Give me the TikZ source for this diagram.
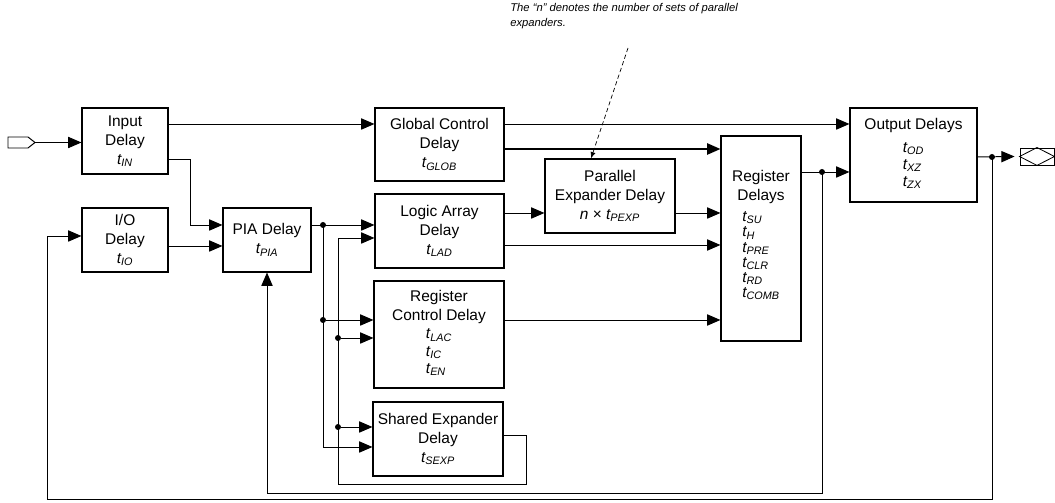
\documentclass[tikz,border=0pt]{standalone}
\usepackage{fontspec}
\setmainfont{Liberation Sans}
\usepackage{tikz}
\usetikzlibrary{positioning,arrows.meta}
\newcommand{\tdly}[1]{{\itshape t\textsubscript{#1}}}
\newcommand{\tlist}[2]{{\renewcommand{\arraystretch}{#1}\begin{tabular}{@{}l@{}}#2\end{tabular}}}
\tikzset{
  blk/.style={rectangle, draw=black, line width=0.8pt, align=center, inner sep=2pt,
              font=\fontsize{11}{13.5}\selectfont},
  flow/.style={-{Triangle[length=3.3mm,width=2.8mm]}, line width=0.7pt},
  wire/.style={line width=0.7pt},
  jn/.style={circle, fill=black, inner sep=0pt, minimum size=1.5mm}
}

\begin{document}
\begin{tikzpicture}[x=0.025cm, y=-0.025cm]
\useasboundingbox (0,0) rectangle (1055,503);
% blocks
\node[blk, minimum width=2.15cm, minimum height=1.65cm] (indly) at (125,141) {Input\\Delay\\\tdly{IN}};
\node[blk, minimum width=2.15cm, minimum height=1.6cm] (iodly) at (125,240) {I/O\\Delay\\\tdly{IO}};
\node[blk, minimum width=2.2cm, minimum height=1.6cm] (pia) at (267,240) {PIA Delay\\\tdly{PIA}};
\node[blk, minimum width=3.225cm, minimum height=1.825cm] (glob) at (439.5,144.5) {Global Control\\Delay\\\tdly{GLOB}};
\node[blk, minimum width=3.225cm, minimum height=1.85cm] (lad) at (439.5,231) {Logic Array\\Delay\\\tdly{LAD}};
\node[blk, minimum width=3.25cm, minimum height=2.675cm] (rcd) at (439,334.5) {Register\\Control Delay\\[1pt]\tlist{0.9}{\tdly{LAC}\\\tdly{IC}\\\tdly{EN}}};
\node[blk, minimum width=3.25cm, minimum height=1.85cm] (sed) at (438,439) {Shared Expander\\Delay\\\tdly{SEXP}};
\node[blk, minimum width=3.25cm, minimum height=1.85cm] (pexp) at (610,196) {Parallel\\Expander Delay\\\textit{n} × \tdly{PEXP}};
\node[blk, minimum width=2cm, minimum height=5.125cm] (reg) at (761,238.5) {Register\\Delays\\[4pt]\tlist{0.8}{\tdly{SU}\\\tdly{H}\\\tdly{PRE}\\\tdly{CLR}\\\tdly{RD}\\\tdly{COMB}}\\[2pt]\mbox{}};
\node[blk, minimum width=3.175cm, minimum height=2.35cm] (outdly) at (913.5,155) {Output Delays\\[4pt]\tlist{0.9}{\tdly{OD}\\\tdly{XZ}\\\tdly{ZX}}};
% pins
\draw[wire] (8,137) -- (28,137) -- (35,142.5) -- (28,148) -- (8,148) -- cycle;
\coordinate (pinin) at (35,142.5);
\node[draw, line width=0.6pt, minimum width=0.85cm, minimum height=0.425cm, inner sep=0pt] (pinout) at (1037,156.5) {};
\draw[line width=0.6pt] (pinout.west) -- (pinout.north) -- (pinout.east) -- (pinout.south) -- cycle;
% note
\node[anchor=north west, inner sep=0pt, align=left, font=\fontsize{8}{10.6}\selectfont\itshape] (note) at (510,3)
  {The “n” denotes the number of sets of parallel\\expanders.};
\coordinate (notetip) at (628,48);
\draw[line width=0.5pt, dash pattern=on 3pt off 2pt, -{Latex[length=1.6mm,width=1.3mm]}] (notetip) -- (pexp.north -| 591,0);
% junctions
\coordinate (busa) at (323,225);
\coordinate (regout) at (822,172);
\coordinate (pinfb) at (992,157);
\node[jn] (ja1) at (busa) {};
\node[jn] (ja2) at (323,320) {};
\node[jn] (jb1) at (338,338) {};
\node[jn] (jb2) at (338,427) {};
\node[jn] (jr) at (regout) {};
\node[jn] (jp) at (pinfb) {};
% connectors
\draw[flow] (pinin) -- (indly.west |- pinin);
\draw[flow] (indly.east |- 0,124) -- (glob.west |- 0,124);
\draw[flow] (indly.east |- 0,159) -- ++(22,0) |- (pia.west |- busa);
\draw[flow] (iodly.east |- 0,246) -- (pia.west |- 0,246);
\draw[flow] (pia.east |- busa) -- (lad.west |- busa);
\draw[flow] (busa) |- (sed.west |- 0,447);
\draw[flow] (ja2) -- (rcd.west |- ja2);
\draw[flow] (sed.east |- 0,435) -- (526,435) |- (338,484) |- (lad.west |- 0,238);
\draw[flow] (jb1) -- (rcd.west |- jb1);
\draw[flow] (jb2) -- (sed.west |- jb2);
\draw[flow] (glob.east |- 0,124) -- (outdly.west |- 0,124);
\draw[flow, line width=1.1pt] (glob.east |- 0,149) -- (reg.west |- 0,149);
\draw[flow] (lad.east |- 0,213) -- (pexp.west |- 0,213);
\draw[flow] (pexp.east |- 0,213) -- (reg.west |- 0,213);
\draw[flow] (lad.east |- 0,245) -- (reg.west |- 0,245);
\draw[flow] (rcd.east |- 0,320) -- (reg.west |- 0,320);
\draw[flow] (reg.east |- regout) -- (outdly.west |- regout);
\draw[flow] (regout) |- (pia.south |- 0,493) -- (pia.south);
\draw[flow] (outdly.east |- pinfb) -- ([xshift=-0.125cm]pinout.west);
\draw[flow] (pinfb) -- (992,499) -| (47,236) -- (iodly.west |- 0,236);
\end{tikzpicture}
\end{document}
